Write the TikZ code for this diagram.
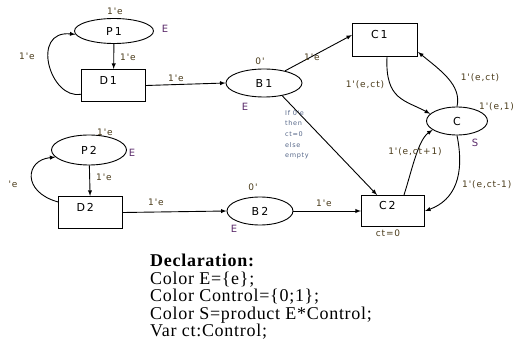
\documentclass[tikz,border=0pt]{standalone}
\usepackage{fontspec}
\setmainfont[LetterSpace=4]{Liberation Serif}
\newfontfamily\netfont[LetterSpace=10]{DejaVu Sans}
\newfontfamily\namefont[LetterSpace=18]{DejaVu Sans}
\usepackage{xcolor}
\usetikzlibrary{arrows}
\usetikzlibrary{shapes.geometric}
\definecolor{lblcol}{HTML}{4A3B1A}
\definecolor{setcol}{HTML}{5A2A6A}
\definecolor{guardcol}{HTML}{556688}

\begin{document}
\begin{tikzpicture}[x=1pt,y=-1pt,
  place/.style={draw,ellipse,line width=0.9pt,inner sep=0pt,font=\namefont\fontsize{11}{11}\selectfont},
  trans/.style={draw,rectangle,line width=1.1pt,minimum width=64pt,minimum height=32pt,inner sep=0pt,
    text width=28pt,align=left,text height=8pt,text depth=10pt,font=\namefont\fontsize{11}{11}\selectfont},
  arc/.style={line width=0.9pt,-latex},
  lbl/.style={inner sep=0pt,text=lblcol,font=\netfont\fontsize{9}{9}\selectfont},
  cset/.style={inner sep=0pt,text=setcol,font=\netfont\fontsize{10}{10}\selectfont}]
\useasboundingbox (0,0) rectangle (517,350);

\node[place,minimum width=79pt,minimum height=25pt] (P1) at (114,31) {P1};
\node[trans] (D1) at (113.5,85.5) {D1};
\node[place,minimum width=76pt,minimum height=28pt] (B1) at (264,83) {B1};
\node[trans,minimum width=65pt,minimum height=33pt] (C1) at (385,40) {C1};
\node[place,minimum width=61pt,minimum height=28pt] (C) at (457,121) {C};
\node[place,minimum width=75pt,minimum height=30pt] (P2) at (89,150) {P2};
\node[trans] (D2) at (90.5,212.5) {D2};
\node[place,minimum width=66pt,minimum height=28pt] (B2) at (260,211) {B2};
\node[trans,minimum width=63pt,minimum height=31pt] (C2) at (393,211) {C2};

\draw[arc] (P1) -- (D1);
\draw[arc] (D1.195) .. controls (50,100) and (30,30) .. (P1.185);
\draw[arc] (D1.east) -- (B1.west);
\draw[arc] (B1.30) -- ([yshift=5pt]C1.west);
\draw[arc] (B1.-35) -- ([xshift=-16pt]C2.north);
\draw[arc] ([xshift=2pt]C1.south) .. controls (385,100) and (405,100) .. (C.165);
\draw[arc] (C.north) .. controls (462,85) and (440,70) .. ([yshift=-12pt]C1.east);
\draw[arc] ([xshift=11pt]C2.north) .. controls (412,170) and (418,140) .. (C.200);
\draw[arc] (C.south) .. controls (465,175) and (455,200) .. (C2.east);
\draw[arc] (P2) -- (D2);
\draw[arc] (D2.162) .. controls (22,192) and (25,160) .. (P2.192);
\draw[arc] (D2.east) -- (B2.west);
\draw[arc] (B2.east) -- (C2.west);

\node[lbl] (l1) at (115,11) {1'e};
\node[cset] (s1) at (165,29) {E};
\node[lbl] (l2) at (128,57) {1'e};
\node[lbl] (l3) at (27,56) {1'e};
\node[lbl] (l4) at (176,78) {1'e};
\node[lbl] (m1) at (260,61) {0'};
\node[cset] (s2) at (245,107) {E};
\node[lbl] (l5) at (312,57) {1'e};
\node[lbl] (l6) at (365,85) {1'(e,ct)};
\node[lbl] (l7) at (480,78) {1'(e,ct)};
\node[lbl,anchor=west] (l8) at (479,107) {1'(e,1)};
\node[cset] (s3) at (475,143) {S};
\node[lbl] (l9) at (415,152) {1'(e,ct+1)};
\node[lbl,anchor=west] (l10) at (462,185) {1'(e,ct-1)};
\node[lbl] (ini) at (388,233) {ct=0};
\node[inner sep=0pt,anchor=north west,align=left,text=guardcol,
  font=\netfont\fontsize{6.5}{10.7}\selectfont] (grd) at (285,110) {If 0'e\\then\\ct=0\\else\\empty};
\node[lbl] (l11) at (105,132) {1'e};
\node[cset] (s4) at (132,153) {E};
\node[lbl] (l12) at (104,177) {1'e};
\node[lbl] (l13) at (13,184) {'e};
\node[lbl] (l14) at (156,202) {1'e};
\node[lbl] (m2) at (253,187) {0'};
\node[cset] (s5) at (234,229) {E};
\node[lbl] (l15) at (324,203) {1'e};

\node[inner sep=0pt,anchor=north west,align=left,
  font=\fontsize{18}{17.5}\selectfont] (decl) at (150,254)
  {\textbf{Declaration:}\\Color E=\{e\};\\Color Control=\{0;1\};\\Color S=product E*Control;\\Var ct:Control;};
\end{tikzpicture}
\end{document}
